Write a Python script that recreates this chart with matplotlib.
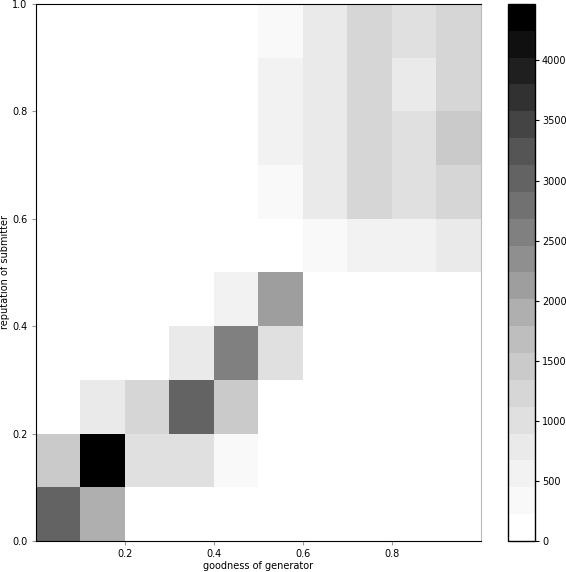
import numpy as np
import matplotlib
matplotlib.use("Agg")
import matplotlib.pyplot as plt

# bin edges (10 x 10 grid on [0, 1])
x_edges = np.linspace(0, 1, 11)
y_edges = np.linspace(0, 1, 11)

# counts per cell, rows from bottom (reputation 0-0.1) to top, columns = goodness bins
counts = np.array([
    [3010, 1900,    0,    0,    0,    0,    0,    0,    0,    0],
    [1450, 4470, 1000, 1000,  330,    0,    0,    0,    0,    0],
    [   0,  780, 1230, 3010, 1450,    0,    0,    0,    0,    0],
    [   0,    0,    0,  780, 2570, 1000,    0,    0,    0,    0],
    [   0,    0,    0,    0,  560, 2120,    0,    0,    0,    0],
    [   0,    0,    0,    0,    0,    0,  330,  560,  560,  780],
    [   0,    0,    0,    0,    0,  330,  780, 1230, 1000, 1230],
    [   0,    0,    0,    0,    0,  560,  780, 1230, 1000, 1450],
    [   0,    0,    0,    0,    0,  560,  780, 1230,  780, 1230],
    [   0,    0,    0,    0,    0,  330,  780, 1230, 1000, 1230],
])

x_ticks = [0.2, 0.4, 0.6, 0.8]
y_ticks = [0.0, 0.2, 0.4, 0.6, 0.8, 1.0]
cbar_ticks = [0, 500, 1000, 1500, 2000, 2500, 3000, 3500, 4000]

fs = 7.0

fig = plt.figure(figsize=(5.66, 5.72), dpi=100)
ax = fig.add_axes([0.0636, 0.0542, 0.786, 0.939])
cax = fig.add_axes([0.8975, 0.0542, 0.0477, 0.939])

cmap = plt.get_cmap("Greys", 20)
mesh = ax.pcolormesh(x_edges, y_edges, counts, cmap=cmap, vmin=0, vmax=counts.max())

ax.set_xlim(0, 1)
ax.set_ylim(0, 1)
ax.set_xticks(x_ticks)
ax.set_yticks(y_ticks)
ax.tick_params(labelsize=fs, length=3, pad=3, color="#999999")
ax.spines["right"].set_color("#bbbbbb")
ax.set_xlabel("goodness of generator", fontsize=fs, labelpad=1)
ax.set_ylabel("reputation of submitter", fontsize=fs, labelpad=2)

cb = fig.colorbar(mesh, cax=cax, ticks=cbar_ticks)
cb.ax.tick_params(labelsize=fs, length=3, pad=2)
cb.outline.set_linewidth(1)

fig.savefig("out.png", dpi=100)
